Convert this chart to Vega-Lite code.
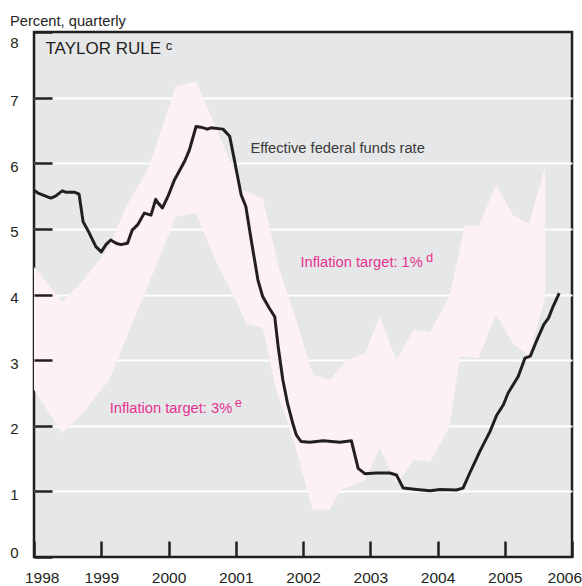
{
  "$schema": "https://vega.github.io/schema/vega-lite/v6.json",
  "width": 538,
  "height": 525,
  "autosize": {"type": "none"},
  "padding": {"left": 34, "top": 32, "right": 10, "bottom": 29},
  "background": "#ffffff",
  "title": {"text": "Percent, quarterly", "anchor": "start", "frame": "group", "dx": -24, "dy": 16, "offset": 6, "fontSize": 14.7, "fontWeight": "normal", "color": "#231f20", "baseline": "alphabetic"},
  "config": {
    "font": "Liberation Sans, Arial, sans-serif",
    "view": {"fill": "#e6e7e8", "stroke": "#231f20", "strokeWidth": 2.5}
  },
  "resolve": {"axis": {"y": "independent"}},
  "datasets": {
    "band": [
      {"year": 1998.00, "upper": 4.42, "lower": 2.55},
      {"year": 1998.42, "upper": 3.89, "lower": 1.89},
      {"year": 1998.77, "upper": 4.26, "lower": 2.24},
      {"year": 1999.12, "upper": 4.73, "lower": 2.70},
      {"year": 1999.37, "upper": 5.34, "lower": 3.33},
      {"year": 1999.70, "upper": 5.92, "lower": 4.15},
      {"year": 2000.11, "upper": 7.17, "lower": 5.18},
      {"year": 2000.41, "upper": 7.25, "lower": 5.24},
      {"year": 2000.70, "upper": 6.55, "lower": 4.51},
      {"year": 2001.00, "upper": 5.83, "lower": 3.92},
      {"year": 2001.10, "upper": 5.59, "lower": 3.68},
      {"year": 2001.15, "upper": 5.57, "lower": 3.56},
      {"year": 2001.40, "upper": 5.47, "lower": 3.49},
      {"year": 2001.60, "upper": 4.59, "lower": 2.55},
      {"year": 2001.65, "upper": 4.37, "lower": 2.41},
      {"year": 2001.85, "upper": 3.77, "lower": 1.83},
      {"year": 2002.10, "upper": 2.94, "lower": 0.87},
      {"year": 2002.15, "upper": 2.77, "lower": 0.72},
      {"year": 2002.40, "upper": 2.70, "lower": 0.72},
      {"year": 2002.55, "upper": 2.88, "lower": 1.02},
      {"year": 2002.65, "upper": 3.00, "lower": 1.06},
      {"year": 2002.92, "upper": 3.10, "lower": 1.17},
      {"year": 2003.14, "upper": 3.66, "lower": 1.66},
      {"year": 2003.39, "upper": 3.00, "lower": 1.12},
      {"year": 2003.64, "upper": 3.46, "lower": 1.48},
      {"year": 2003.89, "upper": 3.43, "lower": 1.45},
      {"year": 2004.18, "upper": 3.97, "lower": 1.99},
      {"year": 2004.33, "upper": 4.68, "lower": 3.05},
      {"year": 2004.41, "upper": 5.06, "lower": 3.05},
      {"year": 2004.61, "upper": 5.04, "lower": 3.03},
      {"year": 2004.87, "upper": 5.67, "lower": 3.69},
      {"year": 2005.12, "upper": 5.21, "lower": 3.26},
      {"year": 2005.36, "upper": 5.07, "lower": 3.06},
      {"year": 2005.60, "upper": 5.95, "lower": 3.95}
    ],
    "rate": [
      {"year": 1998.00, "rate": 5.59}, {"year": 1998.07, "rate": 5.54}, {"year": 1998.25, "rate": 5.47},
      {"year": 1998.32, "rate": 5.50}, {"year": 1998.42, "rate": 5.58}, {"year": 1998.47, "rate": 5.56},
      {"year": 1998.60, "rate": 5.56}, {"year": 1998.67, "rate": 5.53}, {"year": 1998.73, "rate": 5.11},
      {"year": 1998.82, "rate": 4.94}, {"year": 1998.92, "rate": 4.73}, {"year": 1999.00, "rate": 4.65},
      {"year": 1999.07, "rate": 4.76}, {"year": 1999.14, "rate": 4.83}, {"year": 1999.22, "rate": 4.78},
      {"year": 1999.29, "rate": 4.76}, {"year": 1999.39, "rate": 4.78}, {"year": 1999.46, "rate": 4.98},
      {"year": 1999.54, "rate": 5.06}, {"year": 1999.64, "rate": 5.24}, {"year": 1999.74, "rate": 5.21},
      {"year": 1999.81, "rate": 5.45}, {"year": 1999.84, "rate": 5.40}, {"year": 1999.91, "rate": 5.32},
      {"year": 1999.99, "rate": 5.49}, {"year": 2000.09, "rate": 5.75}, {"year": 2000.24, "rate": 6.03},
      {"year": 2000.31, "rate": 6.20}, {"year": 2000.41, "rate": 6.56}, {"year": 2000.48, "rate": 6.55},
      {"year": 2000.58, "rate": 6.52}, {"year": 2000.63, "rate": 6.54}, {"year": 2000.81, "rate": 6.52},
      {"year": 2000.91, "rate": 6.41}, {"year": 2000.98, "rate": 6.05}, {"year": 2001.08, "rate": 5.52},
      {"year": 2001.15, "rate": 5.34}, {"year": 2001.23, "rate": 4.83}, {"year": 2001.33, "rate": 4.22},
      {"year": 2001.40, "rate": 3.97}, {"year": 2001.50, "rate": 3.79}, {"year": 2001.58, "rate": 3.66},
      {"year": 2001.63, "rate": 3.21}, {"year": 2001.70, "rate": 2.70}, {"year": 2001.77, "rate": 2.34},
      {"year": 2001.85, "rate": 2.03}, {"year": 2001.90, "rate": 1.86}, {"year": 2001.97, "rate": 1.76},
      {"year": 2002.10, "rate": 1.75}, {"year": 2002.30, "rate": 1.77}, {"year": 2002.55, "rate": 1.75},
      {"year": 2002.72, "rate": 1.77}, {"year": 2002.82, "rate": 1.35}, {"year": 2002.92, "rate": 1.27},
      {"year": 2003.09, "rate": 1.28}, {"year": 2003.29, "rate": 1.28}, {"year": 2003.39, "rate": 1.25},
      {"year": 2003.49, "rate": 1.05}, {"year": 2003.69, "rate": 1.03}, {"year": 2003.89, "rate": 1.01},
      {"year": 2004.04, "rate": 1.03}, {"year": 2004.28, "rate": 1.02}, {"year": 2004.38, "rate": 1.05},
      {"year": 2004.48, "rate": 1.28}, {"year": 2004.63, "rate": 1.61}, {"year": 2004.78, "rate": 1.91},
      {"year": 2004.88, "rate": 2.16}, {"year": 2004.98, "rate": 2.32}, {"year": 2005.05, "rate": 2.50},
      {"year": 2005.20, "rate": 2.75}, {"year": 2005.30, "rate": 3.03}, {"year": 2005.38, "rate": 3.06},
      {"year": 2005.48, "rate": 3.31}, {"year": 2005.58, "rate": 3.54}, {"year": 2005.65, "rate": 3.64},
      {"year": 2005.72, "rate": 3.82}, {"year": 2005.81, "rate": 4.02}
    ],
    "heading": [{"year": 1998.17, "value": 7.665, "label": "TAYLOR RULE"}],
    "headingSup": [{"year": 1999.96, "value": 7.726, "label": "c"}],
    "seriesNote": [{"year": 2001.218, "value": 6.156, "label": "Effective federal funds rate"}],
    "targetNotes": [
      {"year": 2001.961, "value": 4.424, "label": "Inflation target: 1%"},
      {"year": 1999.126, "value": 2.19, "label": "Inflation target: 3%"}
    ],
    "targetSups": [
      {"year": 2003.83, "value": 4.495, "label": "d"},
      {"year": 2000.985, "value": 2.29, "label": "e"}
    ]
  },
  "layer": [
    {
      "data": {"name": "band"},
      "mark": {"type": "area", "fill": "#fdf1f5", "opacity": 1},
      "encoding": {
        "x": {"field": "year", "type": "quantitative", "title": null,
          "scale": {"domain": [1998, 2006], "nice": false, "zero": false},
          "axis": {"values": [1998, 1999, 2000, 2001, 2002, 2003, 2004, 2005, 2006], "format": "d", "title": null,
            "tickSize": -16, "tickWidth": 2.5, "tickColor": "#231f20", "labelPadding": 29.5,
            "labelFontSize": 15.5, "labelColor": "#231f20", "domain": false, "grid": false,
            "labelFlush": true, "labelFlushOffset": 9.5, "labelOverlap": false, "labelBound": false, "zindex": 1}},
        "y": {"field": "upper", "type": "quantitative", "title": null,
          "scale": {"domain": [0, 8], "nice": false, "zero": false},
          "axis": {"values": [1, 2, 3, 4, 5, 6, 7], "title": null, "grid": true, "gridColor": "#ffffff", "gridWidth": 2, "gridOpacity": 1,
            "ticks": false, "labels": false, "domain": false, "zindex": 0}},
        "y2": {"field": "lower"}
      }
    },
    {
      "data": {"name": "rate"},
      "mark": {"type": "line", "color": "#231f20", "strokeWidth": 3, "strokeJoin": "round"},
      "encoding": {
        "x": {"field": "year", "type": "quantitative", "title": null},
        "y": {"field": "rate", "type": "quantitative", "title": null,
          "axis": {"orient": "left", "values": [0, 1, 2, 3, 4, 5, 6, 7, 8], "title": null, "grid": false, "domain": false,
            "tickSize": -18, "tickWidth": 2.5, "tickColor": "#231f20", "labelPadding": 34,
            "labelFontSize": 15, "labelColor": "#231f20", "labelFlush": true, "labelOffset": 3, "zindex": 1}}
      }
    },
    {
      "data": {"name": "heading"},
      "mark": {"type": "text", "align": "left", "baseline": "alphabetic", "fontSize": 17, "color": "#231f20"},
      "encoding": {
        "x": {"field": "year", "type": "quantitative", "title": null},
        "y": {"field": "value", "type": "quantitative", "title": null, "axis": null},
        "text": {"field": "label"}
      }
    },
    {
      "data": {"name": "headingSup"},
      "mark": {"type": "text", "align": "left", "baseline": "alphabetic", "fontSize": 13, "color": "#231f20"},
      "encoding": {
        "x": {"field": "year", "type": "quantitative", "title": null},
        "y": {"field": "value", "type": "quantitative", "title": null, "axis": null},
        "text": {"field": "label"}
      }
    },
    {
      "data": {"name": "seriesNote"},
      "mark": {"type": "text", "align": "left", "baseline": "alphabetic", "fontSize": 14.7, "color": "#3a3a3a"},
      "encoding": {
        "x": {"field": "year", "type": "quantitative", "title": null},
        "y": {"field": "value", "type": "quantitative", "title": null, "axis": null},
        "text": {"field": "label"}
      }
    },
    {
      "data": {"name": "targetNotes"},
      "mark": {"type": "text", "align": "left", "baseline": "alphabetic", "fontSize": 14.7, "color": "#e5338f"},
      "encoding": {
        "x": {"field": "year", "type": "quantitative", "title": null},
        "y": {"field": "value", "type": "quantitative", "title": null, "axis": null},
        "text": {"field": "label"}
      }
    },
    {
      "data": {"name": "targetSups"},
      "mark": {"type": "text", "align": "left", "baseline": "alphabetic", "fontSize": 13, "color": "#e5338f"},
      "encoding": {
        "x": {"field": "year", "type": "quantitative", "title": null},
        "y": {"field": "value", "type": "quantitative", "title": null, "axis": null},
        "text": {"field": "label"}
      }
    }
  ]
}
